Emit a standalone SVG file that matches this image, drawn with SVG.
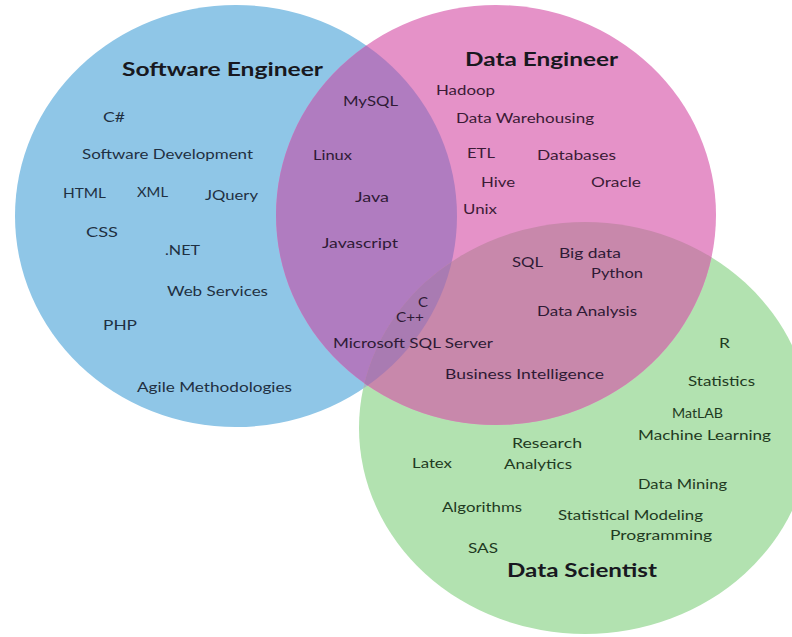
<svg xmlns="http://www.w3.org/2000/svg" width="792" height="637" viewBox="0 0 792 637">
<style>
.t{font-family:Lato,"Liberation Sans",sans-serif;font-size:13px}
.h{font-family:Lato,"Liberation Sans",sans-serif;font-size:19px;font-weight:700;fill:#181820}
.kb{fill:#1f3042}.kp{fill:#3b1b36}.kg{fill:#1f3a22}.ko{fill:#2e1a35}
</style>
<defs>
<clipPath id="cB"><ellipse cx="236" cy="216" rx="221" ry="211"/></clipPath>
<clipPath id="cG"><ellipse cx="585" cy="428" rx="226" ry="206"/></clipPath>
</defs>
<rect width="792" height="637" fill="#ffffff"/>
<g id="software-engineer">
<ellipse cx="236" cy="216" rx="221" ry="211" fill="#8fc6e7"/>
</g>
<g id="data-scientist">
<ellipse cx="585" cy="428" rx="226" ry="206" fill="#b2e2b0"/>
<g clip-path="url(#cB)"><ellipse cx="585" cy="428" rx="226" ry="206" fill="#a3b7c8"/></g>
</g>
<g id="data-engineer">
<ellipse cx="496" cy="215" rx="220" ry="210" fill="#e592c8"/>
<g clip-path="url(#cB)"><ellipse cx="496" cy="215" rx="220" ry="210" fill="#b07cc0"/></g>
<g clip-path="url(#cG)"><ellipse cx="496" cy="215" rx="220" ry="210" fill="#c888ab"/></g>
<g clip-path="url(#cB)"><g clip-path="url(#cG)"><ellipse cx="496" cy="215" rx="220" ry="210" fill="#a97bb2"/></g></g>
</g>
<g id="connectors"></g>
<g id="titles">
<text class="h" x="122" y="76" textLength="201" lengthAdjust="spacingAndGlyphs">Software Engineer</text>
<text class="h" x="465" y="66" textLength="153" lengthAdjust="spacingAndGlyphs">Data Engineer</text>
<text class="h" x="507" y="577" textLength="150" lengthAdjust="spacingAndGlyphs">Data Scientist</text>
</g>
<g id="se-skills" class="t kb">
<text x="103" y="122" textLength="22" lengthAdjust="spacingAndGlyphs">C#</text>
<text x="82" y="159" textLength="171" lengthAdjust="spacingAndGlyphs">Software Development</text>
<text x="63" y="198" textLength="43" lengthAdjust="spacingAndGlyphs">HTML</text>
<text x="137" y="197" textLength="31" lengthAdjust="spacingAndGlyphs">XML</text>
<text x="205" y="200" textLength="53" lengthAdjust="spacingAndGlyphs">JQuery</text>
<text x="86" y="237" textLength="32" lengthAdjust="spacingAndGlyphs">CSS</text>
<text x="165" y="255" textLength="35" lengthAdjust="spacingAndGlyphs">.NET</text>
<text x="167" y="296" textLength="101" lengthAdjust="spacingAndGlyphs">Web Services</text>
<text x="103" y="330" textLength="34" lengthAdjust="spacingAndGlyphs">PHP</text>
<text x="137" y="392" textLength="155" lengthAdjust="spacingAndGlyphs">Agile Methodologies</text>
</g>
<g id="se-de-skills" class="t ko">
<text x="343" y="106" textLength="55" lengthAdjust="spacingAndGlyphs">MySQL</text>
<text x="313" y="160" textLength="39" lengthAdjust="spacingAndGlyphs">Linux</text>
<text x="355" y="202" textLength="34" lengthAdjust="spacingAndGlyphs">Java</text>
<text x="322" y="248" textLength="76" lengthAdjust="spacingAndGlyphs">Javascript</text>
<text x="418" y="307" textLength="10" lengthAdjust="spacingAndGlyphs">C</text>
<text x="396" y="322" textLength="28" lengthAdjust="spacingAndGlyphs">C++</text>
<text x="333" y="348" textLength="160" lengthAdjust="spacingAndGlyphs">Microsoft SQL Server</text>
</g>
<g id="de-skills" class="t kp">
<text x="436" y="95" textLength="59" lengthAdjust="spacingAndGlyphs">Hadoop</text>
<text x="456" y="123" textLength="138" lengthAdjust="spacingAndGlyphs">Data Warehousing</text>
<text x="467" y="158" textLength="28" lengthAdjust="spacingAndGlyphs">ETL</text>
<text x="537" y="160" textLength="79" lengthAdjust="spacingAndGlyphs">Databases</text>
<text x="481" y="187" textLength="34" lengthAdjust="spacingAndGlyphs">Hive</text>
<text x="591" y="187" textLength="50" lengthAdjust="spacingAndGlyphs">Oracle</text>
<text x="463" y="214" textLength="34" lengthAdjust="spacingAndGlyphs">Unix</text>
</g>
<g id="de-ds-skills" class="t ko">
<text x="512" y="267" textLength="31" lengthAdjust="spacingAndGlyphs">SQL</text>
<text x="559" y="258" textLength="62" lengthAdjust="spacingAndGlyphs">Big data</text>
<text x="591" y="278" textLength="52" lengthAdjust="spacingAndGlyphs">Python</text>
<text x="537" y="316" textLength="100" lengthAdjust="spacingAndGlyphs">Data Analysis</text>
<text x="445" y="379" textLength="159" lengthAdjust="spacingAndGlyphs">Business Intelligence</text>
</g>
<g id="ds-skills" class="t kg">
<text x="719" y="348" textLength="11" lengthAdjust="spacingAndGlyphs">R</text>
<text x="688" y="386" textLength="67" lengthAdjust="spacingAndGlyphs">Statistics</text>
<text x="672" y="418" textLength="51" lengthAdjust="spacingAndGlyphs">MatLAB</text>
<text x="638" y="440" textLength="133" lengthAdjust="spacingAndGlyphs">Machine Learning</text>
<text x="512" y="448" textLength="70" lengthAdjust="spacingAndGlyphs">Research</text>
<text x="412" y="468" textLength="40" lengthAdjust="spacingAndGlyphs">Latex</text>
<text x="504" y="469" textLength="68" lengthAdjust="spacingAndGlyphs">Analytics</text>
<text x="638" y="489" textLength="89" lengthAdjust="spacingAndGlyphs">Data Mining</text>
<text x="442" y="512" textLength="80" lengthAdjust="spacingAndGlyphs">Algorithms</text>
<text x="558" y="520" textLength="145" lengthAdjust="spacingAndGlyphs">Statistical Modeling</text>
<text x="610" y="540" textLength="102" lengthAdjust="spacingAndGlyphs">Programming</text>
<text x="468" y="553" textLength="30" lengthAdjust="spacingAndGlyphs">SAS</text>
</g>
</svg>
